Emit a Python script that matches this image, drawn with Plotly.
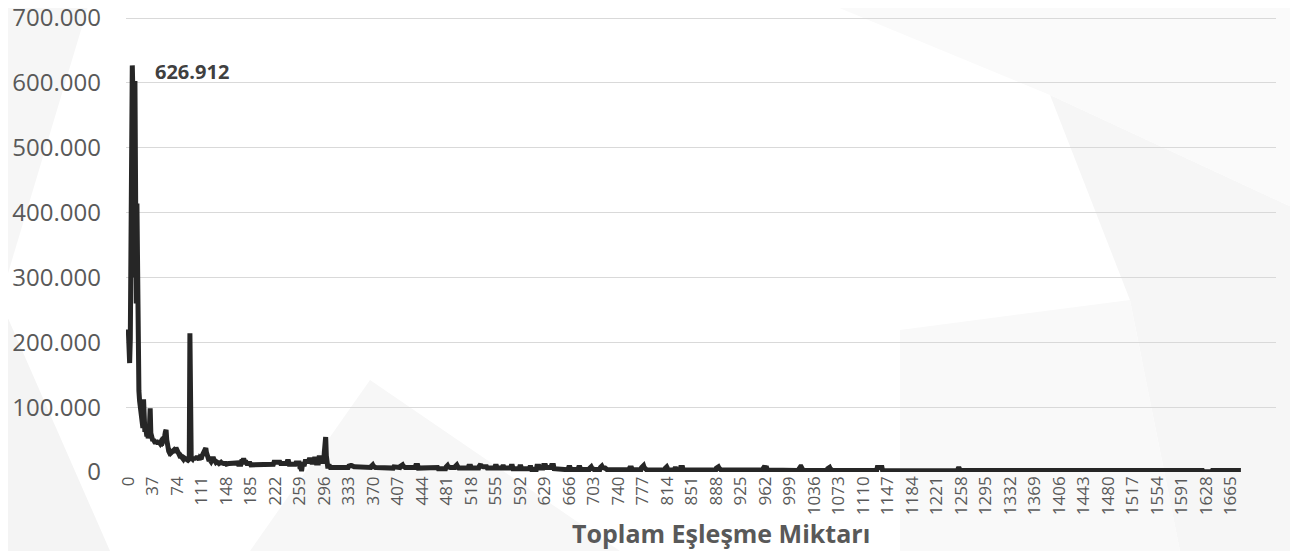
import plotly.graph_objects as go

# ---------------- data (values in thousands) ----------------
head_values = [
    220, 185, 168, 205, 340, 480, 626.912, 580, 420, 300,
    603, 380, 260, 414, 200, 150, 125, 110, 98, 90,
    85, 75, 68, 112, 66, 62, 70, 58, 55, 62,
    52, 58, 72, 98, 60, 52, 55, 48, 50, 46,
    47, 44, 48, 45, 46, 44, 47, 45, 44, 46,
    45, 48, 47, 50, 52, 56, 62, 65, 50, 40,
    34, 32, 30, 31, 29, 30, 32, 31, 33, 30,
    34, 36, 37, 35, 33, 30, 27, 25, 23, 22,
    24, 22, 21, 20, 22, 21, 20, 19, 20, 19,
    18, 19, 20, 214, 20, 19, 21, 20, 22, 19,
    21, 23, 20, 22, 24, 21, 20, 19, 22, 21,
    20, 24, 26, 28, 30, 33, 36, 37, 30, 24,
    20, 18, 17, 19, 17, 16, 18, 20, 23, 20,
    17, 16, 15, 16, 14, 15, 14, 13, 14, 13,
    15, 14, 13, 14, 13, 13, 14, 13, 12, 13, 14,
]

# tail as (value, number of consecutive categories)
tail_runs = [
    (13, 10), (14, 5), (12, 5), (16, 2), (18, 3), (15, 3), (13, 6), (11, 5),
    (12, 30), (15, 10), (13, 10), (16, 3), (12, 10), (14, 6), (8, 2), (4.5, 2),
    (12, 4), (16, 6), (19, 4), (15, 4), (20, 3), (14, 4), (22, 3), (16, 5),
    (30, 1), (48, 1), (54, 1), (25, 1), (9, 5), (7, 28), (9, 1), (10, 4), (9, 1), (8, 6),
    (7, 22), (9, 1), (11, 2), (9, 1), (7, 20), (6, 10), (8, 4), (7, 6), (9, 1), (11, 3), (9, 1), (7, 18),
    (10, 4), (6, 20), (7, 10), (5, 12), (8, 1), (10, 2), (8, 1), (7, 10), (9, 1), (11, 2), (9, 1), (6, 16),
    (9, 4), (6, 12), (9, 1), (12, 2), (9, 1), (8, 8), (6, 12), (9, 3), (6, 8), (8, 3),
    (6, 10), (9, 3), (5, 10), (8, 3), (5, 12), (7, 3), (4, 8), (9, 4),
    (6, 6), (10, 4), (7, 8), (10, 4), (5, 12), (3.5, 10), (7, 3), (4, 12),
    (7, 3), (4, 14), (6, 1), (8, 2), (6, 1), (4, 12), (7, 1), (9, 2), (7, 1), (6, 4), (3.5, 16), (4, 20),
    (6, 4), (3.5, 14), (7, 1), (10, 3), (7, 1), (5, 3), (3, 28), (6, 1), (8, 2), (6, 1), (3, 10), (5, 3),
    (3, 6), (7, 4), (3, 50), (6, 1), (8, 3), (6, 1), (3, 30), (4, 10), (3, 26), (6, 1), (9, 2),
    (6, 3), (3, 20), (2.5, 28), (5, 1), (8, 3), (5, 1), (2.5, 38), (5, 1), (7, 3), (5, 1), (2.5, 70), (7, 3),
    (6, 3), (7, 2), (2, 40), (2.5, 40), (2, 34), (5, 1), (7, 1), (5, 1), (2.5, 50), (2, 60),
    (2.5, 50), (2, 60), (3, 40), (2.5, 30), (3.5, 40), (2.5, 37), (0.5, 14),
    (2.5, 44),
]

x_tick_labels = [0, 37, 74, 111, 148, 185, 222, 259, 296, 333, 370, 407, 444,
                 481, 518, 555, 592, 629, 666, 703, 740, 777, 814, 851, 888,
                 925, 962, 999, 1036, 1073, 1110, 1147, 1184, 1221, 1258, 1295,
                 1332, 1369, 1406, 1443, 1480, 1517, 1554, 1591, 1628, 1665]
y_tick_values = [0, 100000, 200000, 300000, 400000, 500000, 600000, 700000]

x_title = "Toplam Eşleşme Miktarı"

# ---------------- build series ----------------
values_k = list(head_values)
for v, n in tail_runs:
    values_k.extend([v] * n)
y = [v * 1000 for v in values_k]
x = list(range(len(y)))

peak_i = max(range(len(y)), key=lambda i: y[i])
peak_v = y[peak_i]
peak_txt = f"{peak_v:,.0f}".replace(",", ".")

fig = go.Figure()
fig.add_trace(go.Scatter(
    x=x, y=y, mode="lines",
    line=dict(color="#262626", width=5),
    hoverinfo="skip", showlegend=False,
))

fig.add_annotation(
    x=peak_i, y=peak_v, text=f"<b>{peak_txt}</b>", showarrow=False,
    xanchor="left", yanchor="middle", xshift=21, yshift=-6,
    font=dict(family="Open Sans", size=20, color="#404040"),
)

# page body adds an 8px offset; grid 0..700.000 wanted at screen y 472..18
OFF = 8
L, R, T, B = 126, 1276, 18, 472
T_plot = 16                      # plot area top (a little above the 700.000 line)
y_top = 700000 * (B - T_plot) / (B - T)

def pp(pts):
    s = ""
    for k, (px, py) in enumerate(pts):
        xx = (px - L) / (R - L)
        yy = (B - py) / (B - T_plot)
        s += ("M" if k == 0 else "L") + f"{xx:.4f},{yy:.4f} "
    return s + "Z"

polys = [
    ([(0, 0), (90, 0), (0, 300)], "#f6f6f6"),
    ([(0, 300), (110, 551), (0, 551)], "#f4f4f4"),
    ([(1050, 95), (1298, 210), (1298, 551), (1180, 551), (1130, 300)], "#f6f6f6"),
    ([(820, 0), (1298, 0), (1298, 210), (1050, 95)], "#fafafa"),
    ([(370, 380), (620, 551), (250, 551)], "#f7f7f7"),
    ([(900, 330), (1130, 300), (1180, 551), (900, 551)], "#f9f9f9"),
]
for pts, col in polys:
    fig.add_shape(type="path", path=pp(pts), xref="paper", yref="paper",
                  fillcolor=col, line=dict(width=0), layer="below")

# x axis title as annotation (centred at screen x~721, y~534)
fig.add_annotation(
    text=f"<b>{x_title}</b>", xref="paper", yref="paper",
    x=(721 - L) / (R - L), y=0, xanchor="center", yanchor="middle",
    yshift=-(533 - B), showarrow=False,
    font=dict(family="Open Sans", size=25, color="#595959"),
)

W, H = 1298, 551
fig.update_layout(
    width=W, height=H,
    margin=dict(l=L - OFF, r=W - R + OFF, t=T_plot - OFF, b=H - B + OFF, autoexpand=False),
    paper_bgcolor="white", plot_bgcolor="rgba(0,0,0,0)",
    separators=",.",
    font=dict(family="Open Sans", color="#595959"),
    showlegend=False,
)
fig.update_xaxes(
    range=[-3.5, 1733], automargin=False,
    tickmode="array", tickvals=x_tick_labels,
    ticktext=[str(t) for t in x_tick_labels],
    tickangle=-90, tickfont=dict(size=17, color="#595959"),
    showgrid=False, zeroline=False, showline=False, ticks="",
)
fig.update_yaxes(
    range=[0, y_top], tickvals=y_tick_values,
    tickformat=",.0f", automargin=False, ticklabeloverflow="allow",
    tickfont=dict(size=24, color="#595959"),
    showgrid=True, gridcolor="#d9d9d9", gridwidth=1,
    zeroline=False, showline=False, ticks="",
    ticklabelstandoff=24,
)

fig.write_html("out.html")
